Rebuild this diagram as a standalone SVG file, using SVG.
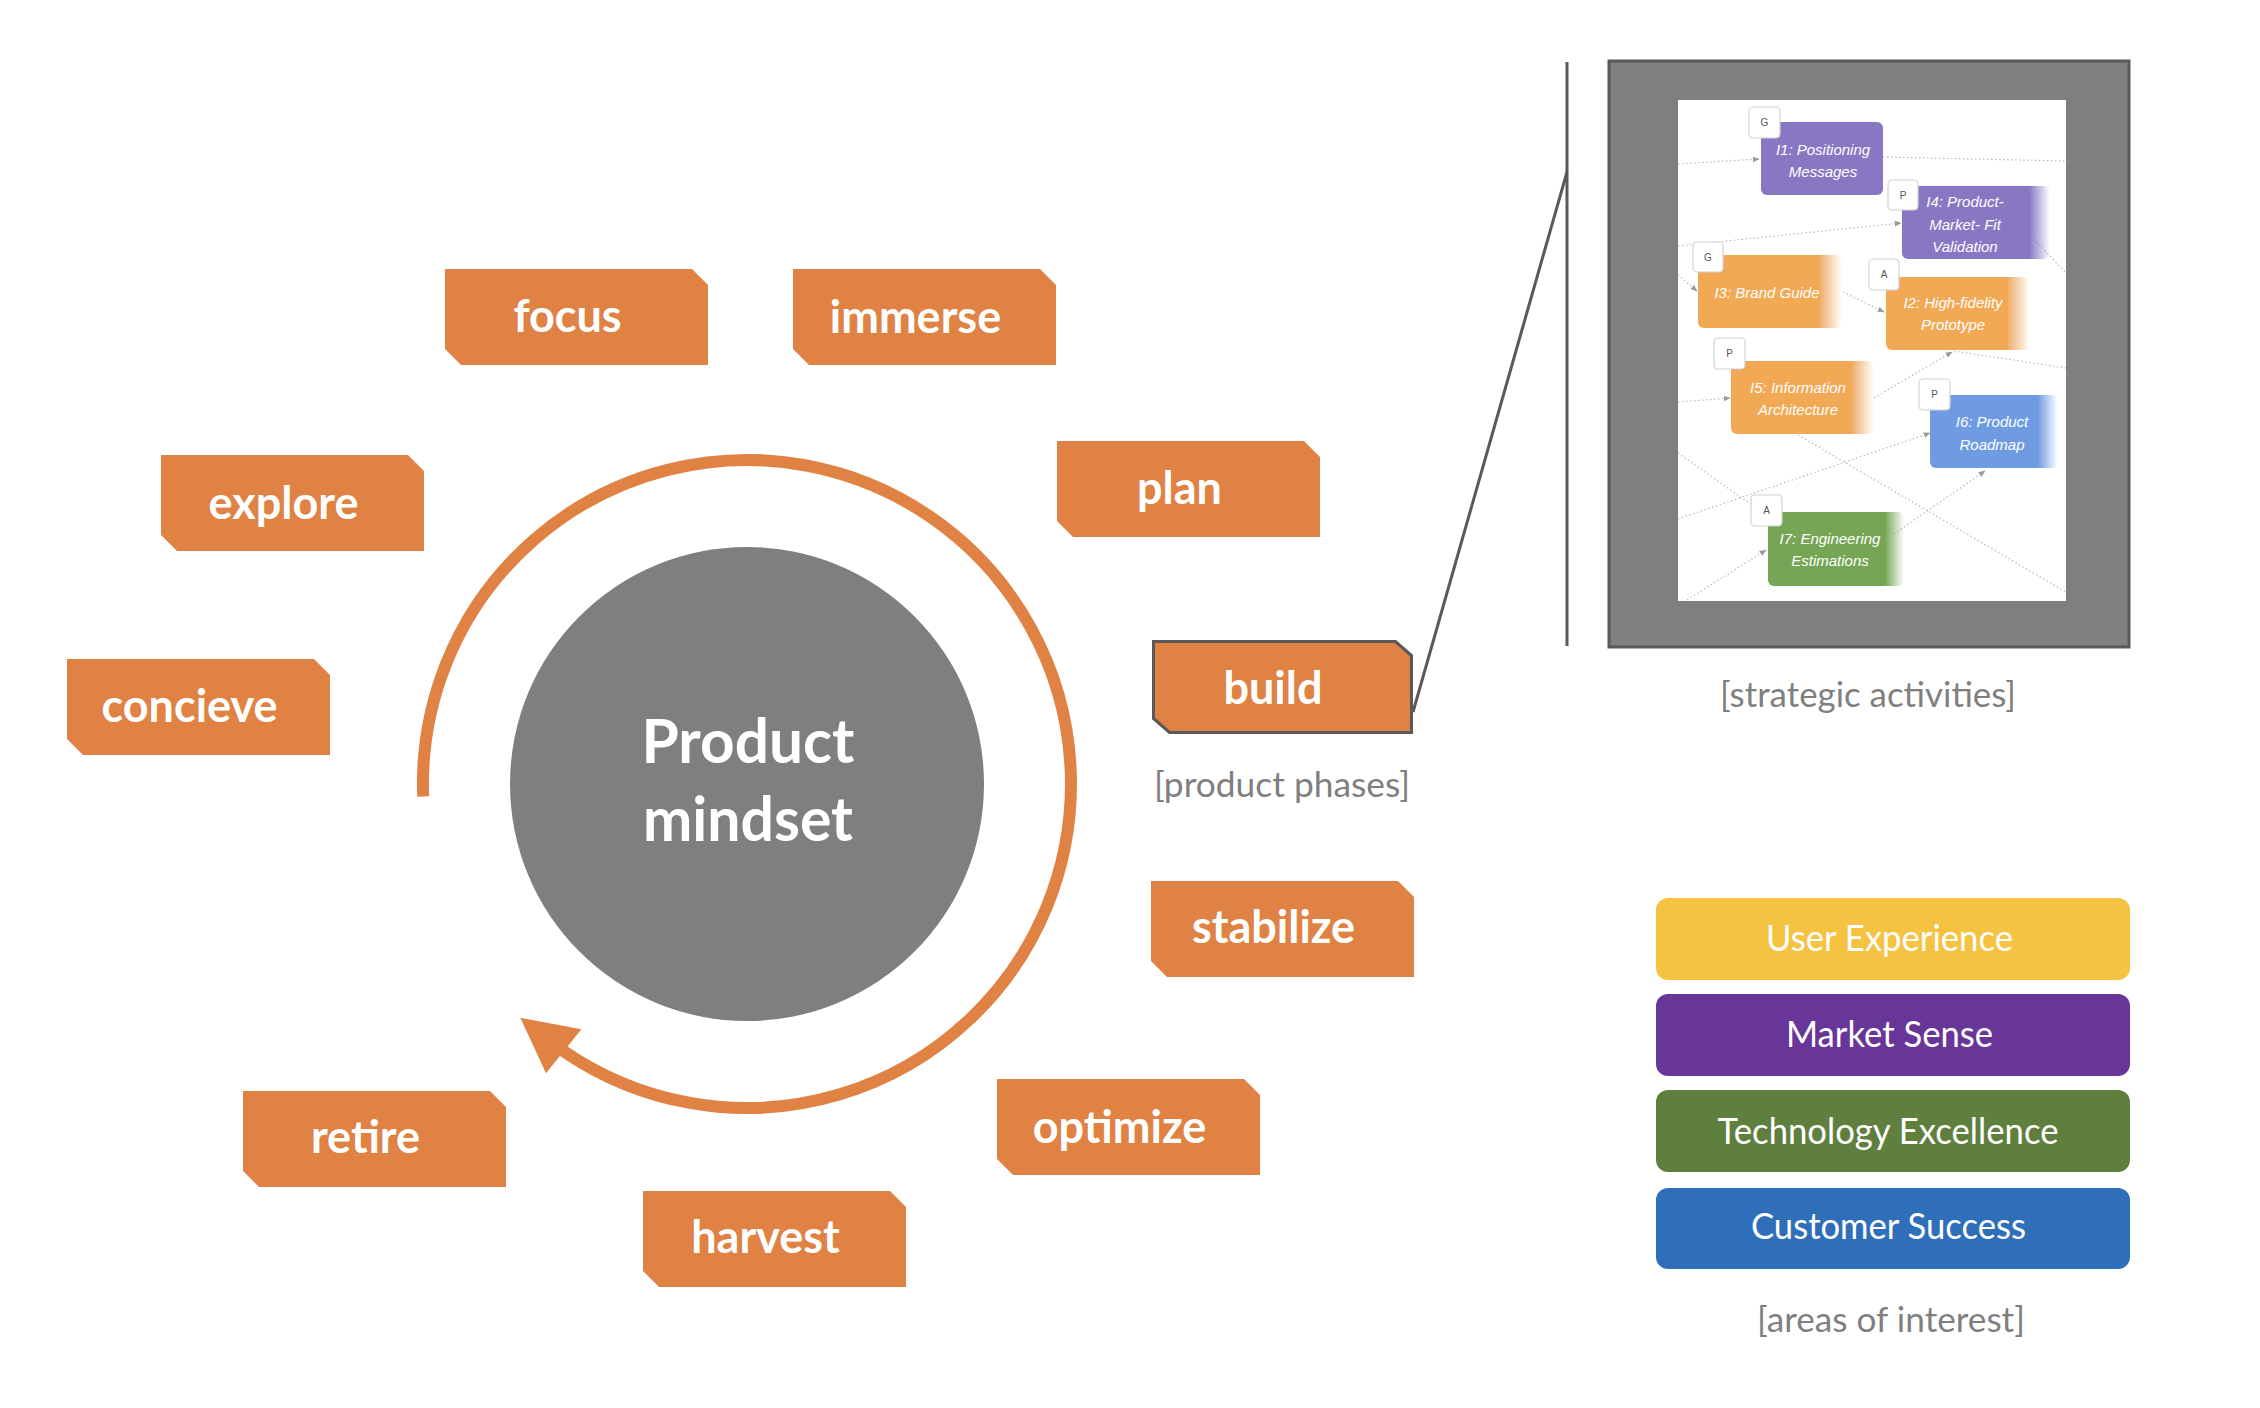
<svg xmlns="http://www.w3.org/2000/svg" width="2260" height="1408" viewBox="0 0 2260 1408">
  <style>
    .phase-text { font-family: Lato, "Open Sans", "Liberation Sans", sans-serif; font-weight: 700; font-size: 45px; fill: #ffffff; text-anchor: middle; }
    .center-text { font-family: Lato, "Open Sans", "Liberation Sans", sans-serif; font-weight: 700; font-size: 61px; fill: #ffffff; text-anchor: middle; }
    .caption { font-family: Lato, "Liberation Sans", sans-serif; font-size: 35px; fill: #7f7f7f; text-anchor: middle; }
    .legend-text { font-family: Lato, "Liberation Sans", sans-serif; font-size: 36px; fill: #ffffff; text-anchor: middle; }
    .card-text { font-family: "Liberation Sans", Arial, sans-serif; font-style: italic; font-size: 15px; fill: #ffffff; text-anchor: middle; }
    .badge rect { fill: #ffffff; stroke: #d2d2d2; stroke-width: 1.2; }
    .badge text { font-family: "Liberation Sans", Arial, sans-serif; font-size: 10px; fill: #555555; text-anchor: middle; }
    .dot { fill: none; stroke: #b8b8b8; stroke-width: 1.2; stroke-dasharray: 1.5 2.5; }
    .dark-line { fill: none; stroke: #595959; stroke-width: 3; }
  </style>
  <defs>
    <path id="phase" d="M0 0 H247 L263 16 V96 H16 L0 80 Z" fill="#df8244"/>
    <marker id="dotArrow" viewBox="0 0 10 10" refX="9" refY="5" markerWidth="7" markerHeight="7" markerUnits="userSpaceOnUse" orient="auto">
      <path d="M0 1 L10 5 L0 9 Z" fill="#9a9a9a"/>
    </marker>
    <linearGradient id="gPurple" x1="0" y1="0" x2="1" y2="0">
      <stop offset="0" stop-color="#8878c3"/>
      <stop offset="0.86" stop-color="#8878c3"/>
      <stop offset="1" stop-color="#8878c3" stop-opacity="0"/>
    </linearGradient>
    <linearGradient id="gOrange" x1="0" y1="0" x2="1" y2="0">
      <stop offset="0" stop-color="#f2a955"/>
      <stop offset="0.84" stop-color="#f2a955"/>
      <stop offset="0.86" stop-color="#efb57a"/>
      <stop offset="1" stop-color="#efb57a" stop-opacity="0"/>
    </linearGradient>
    <linearGradient id="gBlue" x1="0" y1="0" x2="1" y2="0">
      <stop offset="0" stop-color="#6f9be2"/>
      <stop offset="0.84" stop-color="#6f9be2"/>
      <stop offset="1" stop-color="#6f9be2" stop-opacity="0"/>
    </linearGradient>
    <linearGradient id="gGreen" x1="0" y1="0" x2="1" y2="0">
      <stop offset="0" stop-color="#76a556"/>
      <stop offset="0.86" stop-color="#76a556"/>
      <stop offset="1" stop-color="#76a556" stop-opacity="0"/>
    </linearGradient>
  </defs>

  <rect x="0" y="0" width="2260" height="1408" fill="#ffffff"/>

  <!-- connectors -->
  <g id="connectors">
    <path id="cycle-arc" d="M423.2 796.4 A324 324 0 1 1 563 1050.7" fill="none" stroke="#df8244" stroke-width="12"/>
    <polygon id="cycle-arrowhead" points="520.3,1017.8 581.4,1029.3 546,1073.3" fill="#df8244"/>
    <line id="zoom-vertical" class="dark-line" x1="1567" y1="62" x2="1567" y2="646"/>
    <line id="zoom-diagonal" class="dark-line" x1="1413" y1="712" x2="1567" y2="172"/>
  </g>

  <!-- center -->
  <g id="product-mindset">
    <circle cx="747" cy="784" r="237" fill="#7f7f7f"/>
    <text class="center-text" x="748" y="763" textLength="213" lengthAdjust="spacingAndGlyphs">Product</text>
    <text class="center-text" x="748" y="841" textLength="210" lengthAdjust="spacingAndGlyphs">mindset</text>
  </g>

  <!-- phases -->
  <g id="phase-focus">
    <use href="#phase" x="445" y="269"/>
    <text class="phase-text" x="567.5" y="332">focus</text>
  </g>
  <g id="phase-immerse">
    <use href="#phase" x="793" y="269"/>
    <text class="phase-text" x="915.5" y="333">immerse</text>
  </g>
  <g id="phase-explore">
    <use href="#phase" x="161" y="455"/>
    <text class="phase-text" x="283.5" y="519">explore</text>
  </g>
  <g id="phase-concieve">
    <use href="#phase" x="67" y="659"/>
    <text class="phase-text" x="189.5" y="722">concieve</text>
  </g>
  <g id="phase-plan">
    <use href="#phase" x="1057" y="441"/>
    <text class="phase-text" x="1179.5" y="504">plan</text>
  </g>
  <g id="phase-build">
    <path d="M1153.5 641.5 H1395.5 L1411.5 655.5 V732.5 H1169.5 L1153.5 718.5 Z" fill="#df8244" stroke="#595959" stroke-width="3"/>
    <text class="phase-text" x="1273" y="704">build</text>
  </g>
  <g id="phase-stabilize">
    <use href="#phase" x="1151" y="881"/>
    <text class="phase-text" x="1273.5" y="943">stabilize</text>
  </g>
  <g id="phase-optimize">
    <use href="#phase" x="997" y="1079"/>
    <text class="phase-text" x="1119.5" y="1143">optimize</text>
  </g>
  <g id="phase-harvest">
    <use href="#phase" x="643" y="1191"/>
    <text class="phase-text" x="765.5" y="1253">harvest</text>
  </g>
  <g id="phase-retire">
    <use href="#phase" x="243" y="1091"/>
    <text class="phase-text" x="365.5" y="1153">retire</text>
  </g>

  <g id="label-product-phases">
    <text class="caption" x="1282" y="797" textLength="256" lengthAdjust="spacingAndGlyphs">[product phases]</text>
  </g>

  <!-- strategic activities frame -->
  <g id="strategic-activities">
    <rect x="1609" y="61" width="520" height="586" fill="#7f7f7f" stroke="#595959" stroke-width="3"/>
    <rect x="1678" y="100" width="388" height="501" fill="#ffffff"/>
    <g id="screenshot-lines">
      <line class="dot" x1="1678" y1="164" x2="1759" y2="159" marker-end="url(#dotArrow)"/>
      <line class="dot" x1="1883" y1="157" x2="2066" y2="161"/>
      <line class="dot" x1="1678" y1="246" x2="1901" y2="223" marker-end="url(#dotArrow)"/>
      <line class="dot" x1="1678" y1="275" x2="1697" y2="291" marker-end="url(#dotArrow)"/>
      <line class="dot" x1="1843" y1="292" x2="1884" y2="312" marker-end="url(#dotArrow)"/>
      <line class="dot" x1="2020" y1="224" x2="2066" y2="273"/>
      <line class="dot" x1="1678" y1="402" x2="1730" y2="398" marker-end="url(#dotArrow)"/>
      <line class="dot" x1="1874" y1="398" x2="1952" y2="352" marker-end="url(#dotArrow)"/>
      <line class="dot" x1="1954" y1="351" x2="2066" y2="368"/>
      <line class="dot" x1="1678" y1="519" x2="1930" y2="433" marker-end="url(#dotArrow)"/>
      <line class="dot" x1="1678" y1="453" x2="1752" y2="505"/>
      <line class="dot" x1="1798" y1="435" x2="2066" y2="592"/>
      <line class="dot" x1="1687" y1="600" x2="1766" y2="550" marker-end="url(#dotArrow)"/>
      <line class="dot" x1="1894" y1="534" x2="1985" y2="471" marker-end="url(#dotArrow)"/>
    </g>
    <g id="card-i1">
      <rect x="1761" y="122" width="122" height="73" rx="6" fill="#8878c3"/>
      <text class="card-text" x="1823" y="155">I1: Positioning</text>
      <text class="card-text" x="1823" y="177">Messages</text>
      <g class="badge"><rect x="1749" y="107" width="31" height="31" rx="4"/><text x="1764.5" y="126">G</text></g>
    </g>
    <g id="card-i4">
      <rect x="1902" y="186" width="148" height="73" rx="6" fill="url(#gPurple)"/>
      <text class="card-text" x="1965" y="207">I4: Product-</text>
      <text class="card-text" x="1965" y="230">Market- Fit</text>
      <text class="card-text" x="1965" y="252">Validation</text>
      <g class="badge"><rect x="1888" y="180" width="30" height="30" rx="4"/><text x="1903" y="199">P</text></g>
    </g>
    <g id="card-i3">
      <rect x="1698" y="255" width="144" height="73" rx="6" fill="url(#gOrange)"/>
      <text class="card-text" x="1767" y="298">I3: Brand Guide</text>
      <g class="badge"><rect x="1693" y="242" width="30" height="30" rx="4"/><text x="1708" y="261">G</text></g>
    </g>
    <g id="card-i2">
      <rect x="1886" y="277" width="144" height="73" rx="6" fill="url(#gOrange)"/>
      <text class="card-text" x="1953" y="308">I2: High-fidelity</text>
      <text class="card-text" x="1953" y="330">Prototype</text>
      <g class="badge"><rect x="1869" y="259" width="30" height="31" rx="4"/><text x="1884" y="278">A</text></g>
    </g>
    <g id="card-i5">
      <rect x="1731" y="361" width="143" height="73" rx="6" fill="url(#gOrange)"/>
      <text class="card-text" x="1798" y="393">I5: Information</text>
      <text class="card-text" x="1798" y="415">Architecture</text>
      <g class="badge"><rect x="1714" y="338" width="31" height="31" rx="4"/><text x="1729.5" y="357">P</text></g>
    </g>
    <g id="card-i6">
      <rect x="1930" y="395" width="128" height="73" rx="6" fill="url(#gBlue)"/>
      <text class="card-text" x="1992" y="427">I6: Product</text>
      <text class="card-text" x="1992" y="450">Roadmap</text>
      <g class="badge"><rect x="1919" y="379" width="31" height="31" rx="4"/><text x="1934.5" y="398">P</text></g>
    </g>
    <g id="card-i7">
      <rect x="1768" y="512" width="136" height="74" rx="6" fill="url(#gGreen)"/>
      <text class="card-text" x="1830" y="544">I7: Engineering</text>
      <text class="card-text" x="1830" y="566">Estimations</text>
      <g class="badge"><rect x="1751" y="495" width="31" height="31" rx="4"/><text x="1766.5" y="514">A</text></g>
    </g>
    <text class="caption" x="1868" y="707" textLength="296" lengthAdjust="spacingAndGlyphs">[strategic activities]</text>
  </g>

  <!-- areas of interest -->
  <g id="area-user-experience">
    <rect x="1656" y="898" width="474" height="82" rx="12" fill="#f5c242"/>
    <text class="legend-text" x="1889.5" y="951" textLength="247" lengthAdjust="spacingAndGlyphs">User Experience</text>
  </g>
  <g id="area-market-sense">
    <rect x="1656" y="994" width="474" height="82" rx="12" fill="#683598"/>
    <text class="legend-text" x="1889.5" y="1047" textLength="207" lengthAdjust="spacingAndGlyphs">Market Sense</text>
  </g>
  <g id="area-technology-excellence">
    <rect x="1656" y="1090" width="474" height="82" rx="12" fill="#5f7f3e"/>
    <text class="legend-text" x="1888" y="1144" textLength="341" lengthAdjust="spacingAndGlyphs">Technology Excellence</text>
  </g>
  <g id="area-customer-success">
    <rect x="1656" y="1188" width="474" height="81" rx="12" fill="#2f6eb9"/>
    <text class="legend-text" x="1888.5" y="1239" textLength="275" lengthAdjust="spacingAndGlyphs">Customer Success</text>
  </g>
  <g id="label-areas">
    <text class="caption" x="1891" y="1332" textLength="268" lengthAdjust="spacingAndGlyphs">[areas of interest]</text>
  </g>
</svg>
